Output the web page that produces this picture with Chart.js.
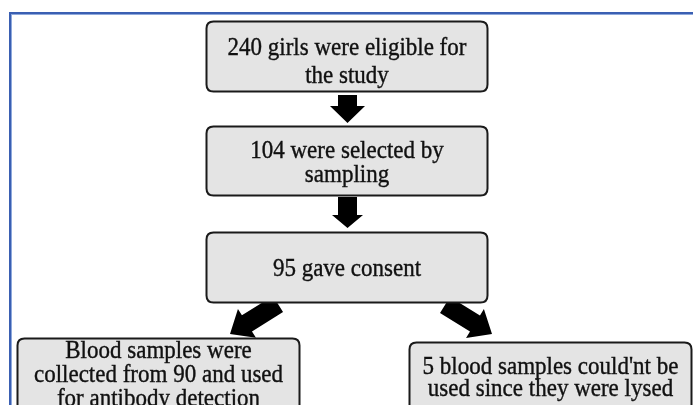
<!DOCTYPE html>
<html>
<head>
<meta charset="utf-8">
<script src="https://cdn.jsdelivr.net/npm/chart.js@4.4.1/dist/chart.umd.min.js"></script>
<style>
  html, body { margin: 0; padding: 0; background: #fff; }
  #wrap { width: 693px; height: 405px; overflow: hidden; }
</style>
</head>
<body>
<div id="wrap"><canvas id="flow" width="693" height="405"></canvas></div>
<script>
// flow data: what each step says, and which step feeds which
var stepCounts = [240, 104, 95, 90, 5];
var stepLines = [
  ['240 girls were eligible for', 'the study'],
  ['104 were selected by', 'sampling'],
  ['95 gave consent'],
  ['Blood samples were', 'collected from 90 and used', 'for antibody detection'],
  ['5 blood samples could\'nt be', 'used since they were lysed']
];
var flows = [[0, 1], [1, 2], [2, 3], [2, 4]];

// layout in axis units (the axes run 0..693 x 0..405, top down)
var boxLeft   = [206, 206, 206, 17, 409];
var boxRight  = [488, 488, 488, 300, 692];
var boxTop    = [21, 126, 232, 338, 342];
var boxBottom = [92, 196, 303, 430, 430];
var firstBase = [55, 158, 276, 358, 374];
var lineStep  = [28, 24, 0, 24, 22];
// arrow tail / tip for each flow
var arrowFrom = [[347.5, 95], [347.5, 197], [278, 304], [445, 305]];
var arrowTo   = [[347.5, 123], [347.5, 228], [230, 334], [492, 334]];
var arrowShape = [[9.5, 17.5, 17], [9.5, 15.5, 13], [9.5, 17, 20], [9.5, 17, 20]]; // shaft half, head half, head length

function roundRect(ctx, x0, y0, x1, y1, r) {
  ctx.beginPath();
  ctx.moveTo(x0 + r, y0);
  ctx.lineTo(x1 - r, y0);
  ctx.quadraticCurveTo(x1, y0, x1, y0 + r);
  ctx.lineTo(x1, y1 - r);
  ctx.quadraticCurveTo(x1, y1, x1 - r, y1);
  ctx.lineTo(x0 + r, y1);
  ctx.quadraticCurveTo(x0, y1, x0, y1 - r);
  ctx.lineTo(x0, y0 + r);
  ctx.quadraticCurveTo(x0, y0, x0 + r, y0);
  ctx.closePath();
}

function blockArrow(ctx, ax, ay, bx, by, sw, hw, hl) {
  var dx = bx - ax, dy = by - ay;
  var len = Math.sqrt(dx * dx + dy * dy);
  var ux = dx / len, uy = dy / len;
  var nx = -uy, ny = ux;
  var mx = bx - ux * hl, my = by - uy * hl;
  ctx.beginPath();
  ctx.moveTo(ax + nx * sw, ay + ny * sw);
  ctx.lineTo(mx + nx * sw, my + ny * sw);
  ctx.lineTo(mx + nx * hw, my + ny * hw);
  ctx.lineTo(bx, by);
  ctx.lineTo(mx - nx * hw, my - ny * hw);
  ctx.lineTo(mx - nx * sw, my - ny * sw);
  ctx.lineTo(ax - nx * sw, ay - ny * sw);
  ctx.closePath();
  ctx.fill();
}

var flowPlugin = {
  id: 'flowPlugin',
  beforeDraw: function(chart) {
    var ctx = chart.ctx;
    ctx.save();
    // blue frame round the figure
    ctx.fillStyle = '#3a5fb2';
    ctx.fillRect(9, 12, 700, 2);
    ctx.fillRect(9, 12, 2, 400);
    ctx.fillStyle = '#8fa9dc';
    ctx.fillRect(11, 14, 700, 1);
    ctx.fillRect(11, 14, 1, 400);
    ctx.restore();
  },
  afterDatasetsDraw: function(chart) {
    var ctx = chart.ctx;
    var xs = chart.scales.x, ys = chart.scales.y;
    ctx.save();

    // arrows first so boxes sit on top of the tails
    ctx.fillStyle = '#000';
    flows.forEach(function(f, i) {
      var s = arrowShape[i];
      blockArrow(ctx,
        xs.getPixelForValue(arrowFrom[i][0]), ys.getPixelForValue(arrowFrom[i][1]),
        xs.getPixelForValue(arrowTo[i][0]), ys.getPixelForValue(arrowTo[i][1]),
        s[0], s[1], s[2]);
    });

    stepLines.forEach(function(lines, i) {
      var x0 = xs.getPixelForValue(boxLeft[i]), x1 = xs.getPixelForValue(boxRight[i]);
      var y0 = ys.getPixelForValue(boxTop[i]), y1 = ys.getPixelForValue(boxBottom[i]);
      roundRect(ctx, x0 + 0.5, y0 + 0.5, x1 - 0.5, y1 - 0.5, 7);
      ctx.fillStyle = '#e4e4e4';
      ctx.fill();
      ctx.lineWidth = 2;
      ctx.strokeStyle = '#1a1a1a';
      ctx.stroke();

      ctx.fillStyle = '#111';
      ctx.strokeStyle = '#111';
      ctx.lineWidth = 0.35;
      ctx.font = '23px "Liberation Serif", "Times New Roman", serif';
      ctx.textAlign = 'center';
      ctx.textBaseline = 'alphabetic';
      var cx = (x0 + x1) / 2;
      lines.forEach(function(t, k) {
        var by = ys.getPixelForValue(firstBase[i] + k * lineStep[i]);
        // glyphs in the figure are a little taller than they are wide
        ctx.save();
        ctx.translate(cx, by);
        ctx.scale(1, 1.12);
        ctx.fillText(t, 0, 0);
        ctx.strokeText(t, 0, 0);
        ctx.restore();
      });
    });
    ctx.restore();
  }
};

// one hidden point per step, sitting at the box centre
var stepPoints = stepCounts.map(function(n, i) {
  return { x: (boxLeft[i] + boxRight[i]) / 2, y: (boxTop[i] + boxBottom[i]) / 2, n: n };
});

new Chart(document.getElementById('flow'), {
  type: 'scatter',
  data: {
    datasets: [{
      label: 'Girls at each step',
      data: stepPoints,
      pointRadius: 0,
      pointHoverRadius: 0
    }]
  },
  options: {
    responsive: false,
    animation: false,
    layout: { padding: 0 },
    plugins: { legend: { display: false }, tooltip: { enabled: false } },
    scales: {
      x: { type: 'linear', min: 0, max: 693, display: false },
      y: { type: 'linear', min: 0, max: 405, reverse: true, display: false }
    }
  },
  plugins: [flowPlugin]
});
</script>
</body>
</html>
